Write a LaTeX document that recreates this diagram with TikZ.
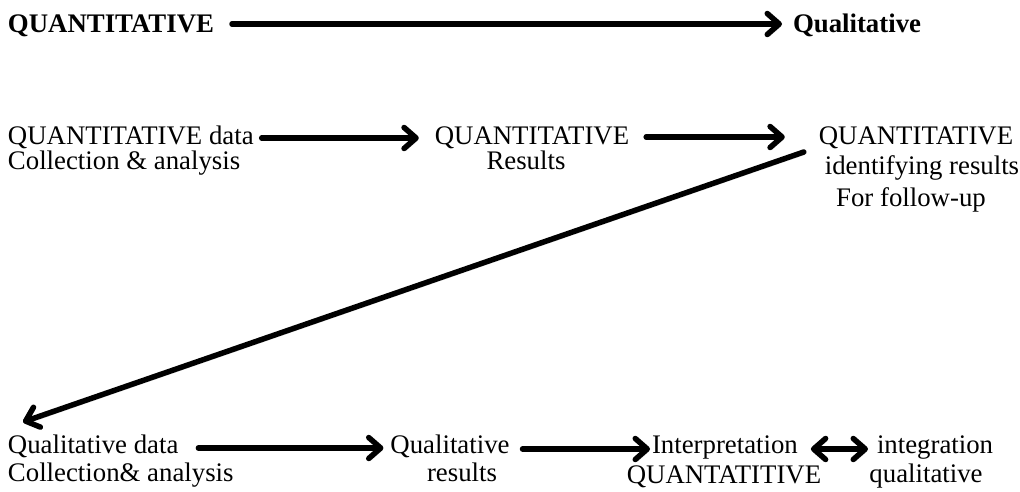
\documentclass[tikz,border=0pt]{standalone}
\usepackage{fontspec}
\setmainfont{Liberation Serif}
\usetikzlibrary{arrows.meta}
\tikzset{
  lbl/.style={inner sep=0pt, outer sep=0pt, font=\fontsize{26.8}{26}\selectfont},
  ttl/.style={lbl, font=\fontsize{26.8}{26}\selectfont\bfseries},
  tip/.tip={Straight Barb[round, length=12pt, width=21pt]},
  arr/.style={line width=5.5pt, line cap=round, line join=round, -tip,
    preaction={draw=black!30, opacity=0.45, transform canvas={shift={(1.5pt,-2.5pt)}}}},
  darr/.style={arr, tip-tip}
}
\begin{document}
\begin{tikzpicture}[x=1pt, y=-1pt]
\useasboundingbox (0,0) rectangle (1020,492);
% title row
\node[ttl, anchor=base west] (t1) at (8,33) {QUANTITATIVE};
\node[ttl, anchor=base west] (t2) at (793,33) {Qualitative};
% row 2
\node[lbl, anchor=base west] (a1) at (8,145) {QUANTITATIVE data};
\node[lbl, anchor=base west] (a1b) at (8,170) {Collection \& analysis};
\node[lbl, anchor=base] (a2) at (532,145) {QUANTITATIVE};
\node[lbl, anchor=base] (a2b) at (526,170) {Results};
\node[lbl, anchor=base] (a3) at (916,145) {QUANTITATIVE};
\node[lbl, anchor=base] (a3b) at (922,175) {identifying results};
\node[lbl, anchor=base] (a3c) at (911,206) {For follow-up};
% row 3
\node[lbl, anchor=base west] (b1) at (8,453) {Qualitative data};
\node[lbl, anchor=base west] (b1b) at (8,481) {Collection\& analysis};
\node[lbl, anchor=base] (b2) at (450,453) {Qualitative};
\node[lbl, anchor=base] (b2b) at (462,481) {results};
\node[lbl, anchor=base west] (c1) at (652,453) {Interpretation};
\node[lbl, anchor=base] (c1b) at (724,483) {QUANTATITIVE};
\node[lbl, anchor=base west] (d1) at (877,453) {integration};
\node[lbl, anchor=base] (d1b) at (926,482) {qualitative};
% arrows
\draw[arr] ([shift={(18,-9)}]t1.base east) -- ([shift={(-11,-9)}]t2.base west);
\draw[arr] ([shift={(8,-7)}]a1.base east) -- ([shift={(-16,-7)}]a2.base west);
\draw[arr] ([shift={(17,-8)}]a2.base east) -- ([shift={(-34,-8)}]a3.base west);
\draw[arr] ([shift={(-15,7)}]a3.base west) -- ([shift={(15,-31)}]b1.base west);
\draw[arr] ([shift={(20,-5)}]b1.base east) -- ([shift={(-7,-5)}]b2.base west);
\draw[arr] ([shift={(13,-4)}]b2.base east) -- ([shift={(-2,-4)}]c1.base west);
\draw[darr] ([shift={(13,-4)}]c1.base east) -- ([shift={(-9,-4)}]d1.base west);
\end{tikzpicture}
\end{document}
